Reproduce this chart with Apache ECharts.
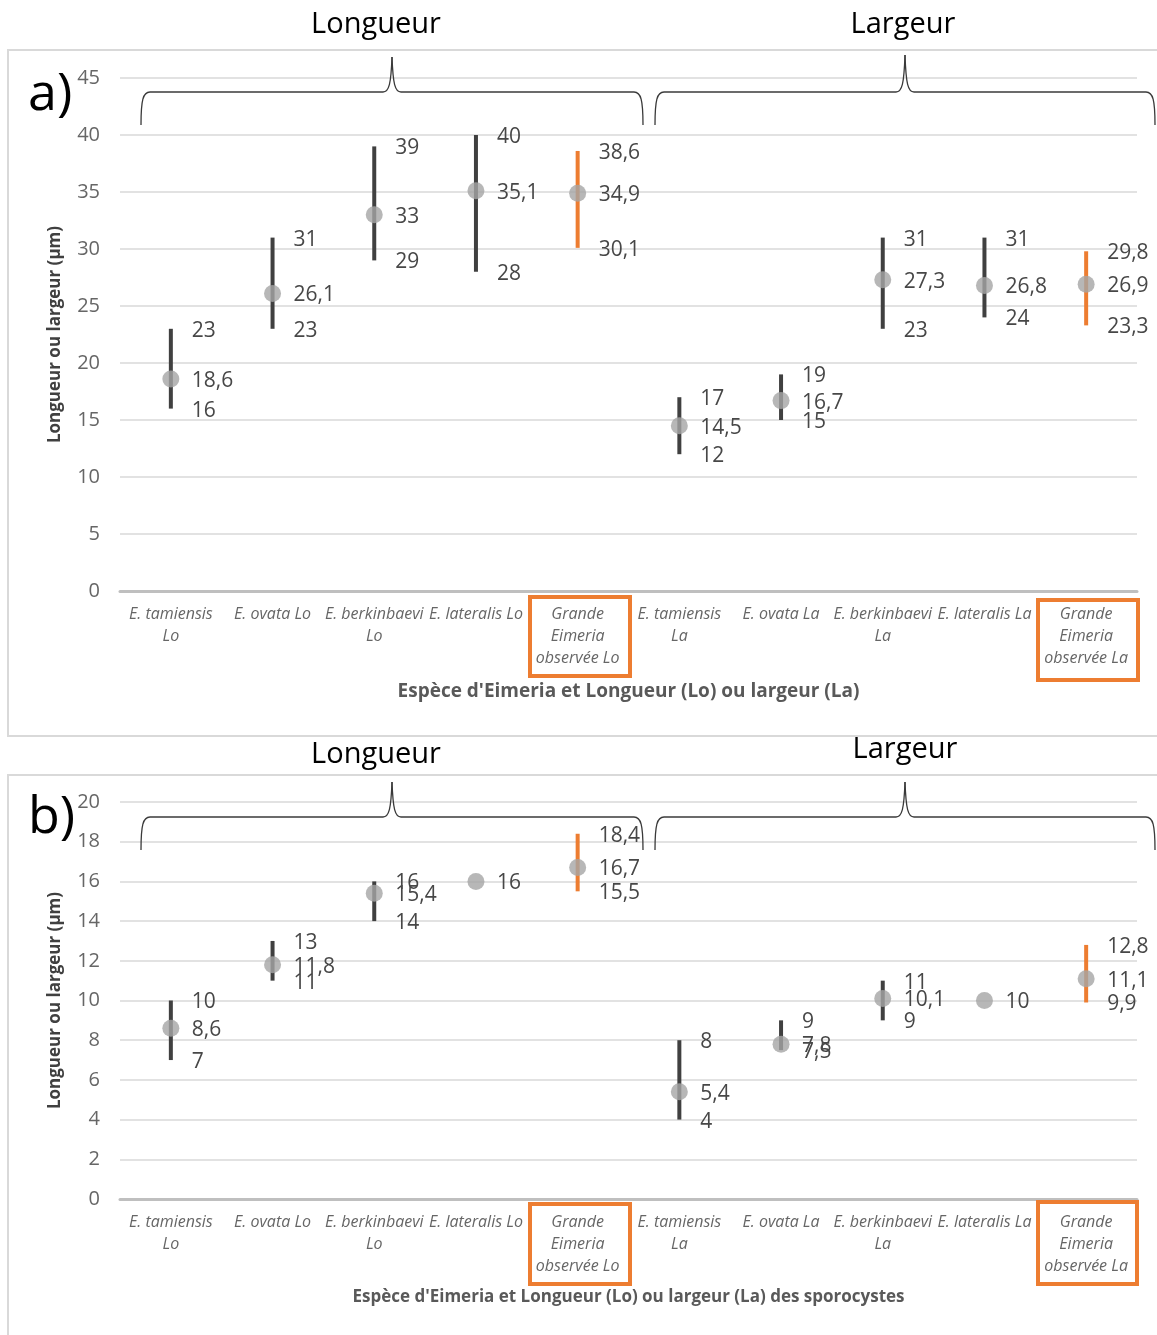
<!DOCTYPE html>
<html>
<head>
<meta charset="utf-8">
<title>Eimeria — longueur et largeur</title>
<script src="https://cdn.jsdelivr.net/npm/echarts@6/dist/echarts.min.js"></script>
<style>
  html, body { margin: 0; padding: 0; background: #ffffff; }
  #chart { width: 1157px; height: 1335px; }
</style>
</head>
<body>
<div id="chart"></div>
<script>
// Categories: five species for length (Lo) then the same five for width (La)
const categories = [
  'E. tamiensis\nLo', 'E. ovata Lo', 'E. berkinbaevi\nLo', 'E. lateralis Lo', 'Grande\nEimeria\nobservée Lo',
  'E. tamiensis\nLa', 'E. ovata La', 'E. berkinbaevi\nLa', 'E. lateralis La', 'Grande\nEimeria\nobservée La'
];
// Observed large Eimeria (highlighted in orange)
const observed = [false, false, false, false, true, false, false, false, false, true];

// a) oocysts (µm)
const oocystMin  = [16, 23, 29, 28, 30.1, 12, 15, 23, 24, 23.3];
const oocystMean = [18.6, 26.1, 33, 35.1, 34.9, 14.5, 16.7, 27.3, 26.8, 26.9];
const oocystMax  = [23, 31, 39, 40, 38.6, 17, 19, 31, 31, 29.8];

// b) sporocysts (µm)
const sporoMin  = [7, 11, 14, 16, 15.5, 4, 7.5, 9, 10, 9.9];
const sporoMean = [8.6, 11.8, 15.4, 16, 16.7, 5.4, 7.8, 10.1, 10, 11.1];
const sporoMax  = [10, 13, 16, 16, 18.4, 8, 9, 11, 10, 12.8];

// Axis ranges
const axisA = { min: 0, max: 45, interval: 5 };
const axisB = { min: 0, max: 20, interval: 2 };

const FONT = '"Open Sans", "Noto Sans", sans-serif';
const ORANGE = '#ED7D31';
const DARK = '#404040';
const fmt = v => String(v).replace('.', ',');

function rangeSeries(idx, mins, means, maxs) {
  return [
    {
      type: 'custom', xAxisIndex: idx, yAxisIndex: idx, z: 2,
      data: mins.map((m, i) => [i, m, maxs[i]]),
      encode: { x: 0, y: [1, 2] },
      renderItem: function (params, api) {
        const i = api.value(0);
        const lo = api.coord([i, api.value(1)]);
        const hi = api.coord([i, api.value(2)]);
        return {
          type: 'line',
          shape: { x1: lo[0], y1: lo[1], x2: hi[0], y2: hi[1] },
          style: { stroke: observed[i] ? ORANGE : DARK, lineWidth: 4 }
        };
      }
    },
    {
      type: 'scatter', xAxisIndex: idx, yAxisIndex: idx, z: 3,
      data: means.map((m, i) => [i, m]),
      symbol: 'circle', symbolSize: 17,
      itemStyle: { color: '#A5A5A5' }
    },
    {
      type: 'custom', xAxisIndex: idx, yAxisIndex: idx, z: 4,
      data: mins.map((m, i) => [i, m, means[i], maxs[i]]),
      encode: { x: 0, y: [1, 2, 3] },
      renderItem: function (params, api) {
        const i = api.value(0);
        const vals = [api.value(1), api.value(2), api.value(3)];
        const mean = vals[1];
        const children = [];
        vals.forEach((v, k) => {
          if (k !== 1 && v === mean) return;
          const p = api.coord([i, v]);
          children.push({
            type: 'text', x: p[0] + 21, y: p[1] + 2,
            style: {
              text: fmt(v), fill: '#474747', font: '21px ' + FONT,
              align: 'left', verticalAlign: 'middle'
            }
          });
        });
        return { type: 'group', children: children };
      }
    }
  ];
}

function xAxisFor(idx, title, gap, size) {
  return {
    gridIndex: idx, type: 'category', data: categories, boundaryGap: true,
    axisTick: { show: false },
    axisLine: { lineStyle: { color: '#bfbfbf', width: 3 } },
    axisLabel: {
      interval: 0, fontStyle: 'italic', fontSize: 16, color: '#666666',
      lineHeight: 22, margin: 12, fontFamily: FONT
    },
    name: title, nameLocation: 'middle', nameGap: gap,
    nameTextStyle: { fontSize: size, fontWeight: 'bold', color: '#595959', fontFamily: FONT }
  };
}

function yAxisFor(idx, range) {
  return {
    gridIndex: idx, type: 'value', min: range.min, max: range.max, interval: range.interval,
    axisLine: { show: false }, axisTick: { show: false },
    splitLine: { lineStyle: { color: '#d9d9d9', width: 1.5 } },
    axisLabel: { fontSize: 20, color: '#666666', margin: 20, fontFamily: FONT },
    name: 'Longueur ou largeur (µm)', nameLocation: 'middle', nameRotate: 90, nameGap: 56,
    nameTextStyle: { fontSize: 17, fontWeight: 'bold', color: '#404040', fontFamily: FONT }
  };
}

// Curly brace above a group of categories, built from curves and straight segments
function brace(x1, x2, peakX, yLine, yPeak, yEnd) {
  const st = { fill: null, stroke: '#3a3a3a', lineWidth: 1.3 };
  const curve = (a, b, c1, c2) => ({
    type: 'bezierCurve', z: 10, style: st,
    shape: { x1: a[0], y1: a[1], x2: b[0], y2: b[1], cpx1: c1[0], cpy1: c1[1], cpx2: c2[0], cpy2: c2[1] }
  });
  const seg = (a, b) => ({
    type: 'line', z: 10, style: st,
    shape: { x1: a[0], y1: a[1], x2: b[0], y2: b[1] }
  });
  return {
    type: 'group',
    children: [
      curve([x1, yEnd], [x1 + 9, yLine], [x1, yLine + 8], [x1 + 2, yLine]),
      seg([x1 + 9, yLine], [peakX - 9, yLine]),
      curve([peakX - 9, yLine], [peakX, yPeak], [peakX - 3, yLine], [peakX - 1, yLine - 8]),
      curve([peakX, yPeak], [peakX + 9, yLine], [peakX + 1, yLine - 8], [peakX + 3, yLine]),
      seg([peakX + 9, yLine], [x2 - 9, yLine]),
      curve([x2 - 9, yLine], [x2, yEnd], [x2 - 2, yLine], [x2, yLine + 8])
    ]
  };
}

function headText(text, x, y) {
  return {
    type: 'text', x: x, y: y, z: 10,
    style: { text: text, fill: '#000', font: '29px ' + FONT, align: 'center', verticalAlign: 'middle' }
  };
}

function frame(x, y, w, h, color, lw) {
  return {
    type: 'rect', shape: { x: x, y: y, width: w, height: h }, z: 10,
    style: { fill: null, stroke: color, lineWidth: lw }
  };
}

const chart = echarts.init(document.getElementById('chart'), null, { renderer: 'canvas' });

chart.setOption({
  animation: false,
  backgroundColor: '#ffffff',
  grid: [
    { left: 120, top: 78, width: 1017, height: 513 },
    { left: 120, top: 802, width: 1017, height: 397 }
  ],
  xAxis: [
    xAxisFor(0, "Espèce d'Eimeria et Longueur (Lo) ou largeur (La)", 91, 19),
    xAxisFor(1, "Espèce d'Eimeria et Longueur (Lo) ou largeur (La) des sporocystes", 90, 17)
  ],
  yAxis: [yAxisFor(0, axisA), yAxisFor(1, axisB)],
  series: [].concat(
    rangeSeries(0, oocystMin, oocystMean, oocystMax),
    rangeSeries(1, sporoMin, sporoMean, sporoMax)
  ),
  graphic: {
    elements: [
      frame(8, 50, 1170, 686, '#d9d9d9', 2),
      frame(8, 775, 1170, 600, '#d9d9d9', 2),
      headText('Longueur', 376, 25),
      headText('Largeur', 903, 25),
      headText('Longueur', 376, 755),
      headText('Largeur', 905, 750),
      {
        type: 'text', x: 28, y: 95, z: 10,
        style: { text: 'a)', fill: '#000', font: '52px ' + FONT, align: 'left', verticalAlign: 'middle' }
      },
      {
        type: 'text', x: 28, y: 818, z: 10,
        style: { text: 'b)', fill: '#000', font: '52px ' + FONT, align: 'left', verticalAlign: 'middle' }
      },
      brace(141, 643, 392, 92, 57, 125),
      brace(655, 1155, 905, 92, 55, 125),
      brace(141, 643, 392, 817, 782, 850),
      brace(655, 1155, 905, 817, 782, 850),
      frame(530, 597, 100, 79, ORANGE, 4),
      frame(1038, 600, 100, 80, ORANGE, 4),
      frame(530, 1204, 100, 80, ORANGE, 4),
      frame(1038, 1202, 99, 82, ORANGE, 4)
    ]
  }
});
</script>
</body>
</html>
